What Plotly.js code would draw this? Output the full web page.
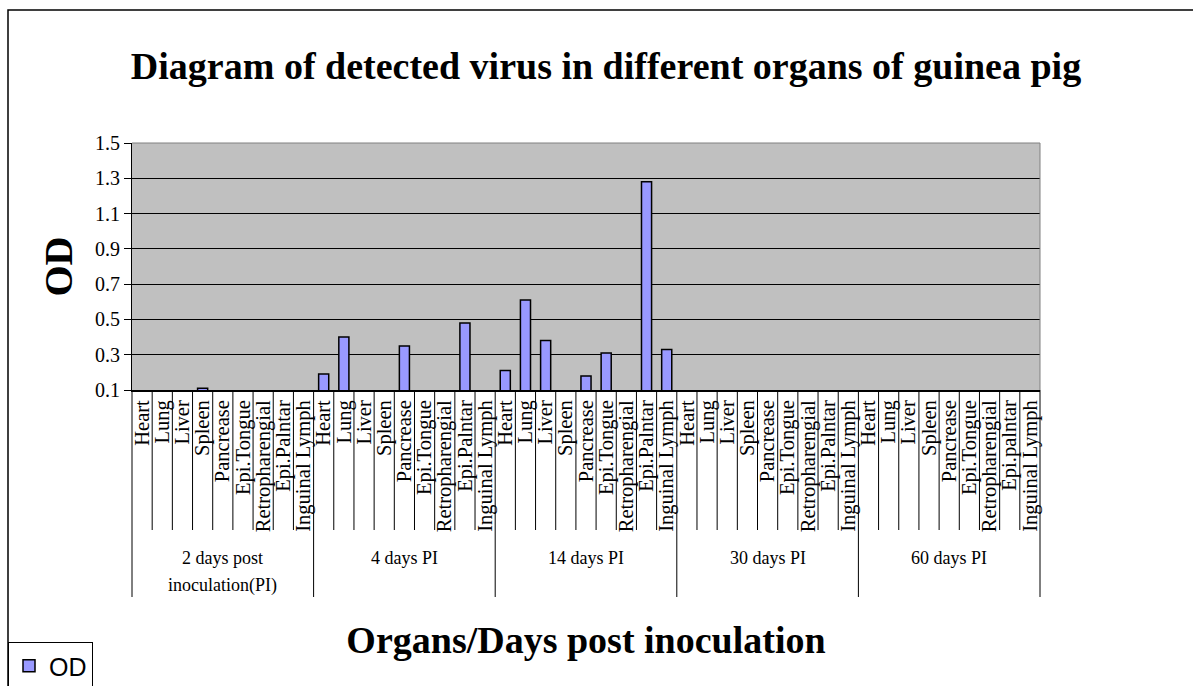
<!DOCTYPE html>
<html>
<head>
<meta charset="utf-8">
<script src="https://cdn.plot.ly/plotly-3.0.1.min.js"></script>
<style>
  html, body { margin: 0; padding: 0; background: #ffffff; }
  #chart { width: 1193px; height: 686px; }
</style>
</head>
<body>
<div id="chart"></div>
<script>
// ---- data ----
const organs = ["Heart", "Lung", "Liver", "Spleen", "Pancrease", "Epi.Tongue", "Retropharengial", "Epi.Palntar", "Inguinal Lymph"];
const organs60 = ["Heart", "Lung", "Liver", "Spleen", "Pancrease", "Epi.Tongue", "Retropharengial", "Epi.palntar", "Inguinal Lymph"];
const groups = ["2 days post\ninoculation(PI)", "4 days PI", "14 days PI", "30 days PI", "60 days PI"];
const od2days  = [0, 0, 0, 0.11, 0, 0, 0, 0, 0];
const od4days  = [0.19, 0.40, 0, 0, 0.35, 0, 0, 0.48, 0];
const od14days = [0.21, 0.61, 0.38, 0, 0.18, 0.31, 0, 1.28, 0.33];
const od30days = [0, 0, 0, 0, 0, 0, 0, 0, 0];
const od60days = [0, 0, 0, 0, 0, 0, 0, 0, 0];
const yTicks = [0.1, 0.3, 0.5, 0.7, 0.9, 1.1, 1.3, 1.5];

// ---- build ----
const groupOrgans = [organs, organs, organs, organs, organs60];
const groupValues = [od2days, od4days, od14days, od30days, od60days];
const tickText = [].concat(...groupOrgans);
const yVals = [].concat(...groupValues);
const xIdx = tickText.map((_, i) => i);
const nCat = tickText.length;
const perGroup = organs.length;

const W = 1193, H = 686;
const M = {l: 132, r: 153, t: 143, b: 296, autoexpand: false};
const plotH = H - M.t - M.b;
const plotW = W - M.l - M.r;
const py = p => (H - M.b - p) / plotH;   // pixel y -> paper y
const px = p => (p - M.l) / plotW;       // pixel x -> paper x

const serif = '"Liberation Serif", "Times New Roman", serif';

const shapes = [];
// category separators below the axis
for (let k = 0; k <= nCat; k++) {
  const isGroup = (k % perGroup === 0);
  shapes.push({
    type: 'line', xref: 'paper', yref: 'paper',
    x0: k / nCat, x1: k / nCat, y0: 0, y1: isGroup ? py(597) : py(530),
    line: {color: '#000000', width: 1}
  });
}
// plot area border (top/right grey)
shapes.push({type: 'line', xref: 'paper', yref: 'paper', x0: 0, x1: 1, y0: 1, y1: 1, line: {color: '#808080', width: 1}});
shapes.push({type: 'line', xref: 'paper', yref: 'paper', x0: 1, x1: 1, y0: 0, y1: 1, line: {color: '#808080', width: 1}});
// chart outer border
shapes.push({type: 'rect', xref: 'paper', yref: 'paper',
  x0: px(8), x1: px(1240), y0: py(10), y1: py(760),
  line: {color: '#000000', width: 1.5}, fillcolor: 'rgba(0,0,0,0)'});

const annotations = [];
groups.forEach((g, gi) => {
  const lines = g.split('\n');
  lines.forEach((ln, li) => {
    annotations.push({
      xref: 'x', yref: 'paper',
      x: gi * perGroup + (perGroup - 1) / 2,
      y: py(558 + li * 27),
      text: ln, showarrow: false,
      xanchor: 'center', yanchor: 'middle',
      font: {family: serif, size: 18, color: '#000000'}
    });
  });
});

const trace = {
  type: 'bar',
  x: xIdx,
  y: yVals,
  name: 'OD',
  marker: {color: '#9999FF', line: {color: '#000000', width: 1.5}},
  hoverinfo: 'y'
};

const layout = {
  width: W, height: H,
  margin: M,
  paper_bgcolor: '#ffffff',
  plot_bgcolor: '#C0C0C0',
  bargap: 0.5,
  showlegend: true,
  title: {
    text: '<b>Diagram of detected virus in different organs of guinea pig</b>',
    font: {family: serif, size: 38, color: '#000000'},
    x: 606 / W, xref: 'container', xanchor: 'center',
    y: 1 - 66 / H, yref: 'container', yanchor: 'middle'
  },
  xaxis: {
    range: [-0.5, nCat - 0.5],
    tickmode: 'array', tickvals: xIdx, ticktext: tickText,
    tickangle: -90,
    ticks: '', showgrid: false, zeroline: false,
    showline: true, linecolor: '#000000', linewidth: 2,
    tickfont: {family: serif, size: 20.5, color: '#000000'},
    automargin: false,
    title: {text: '<b>Organs/Days post inoculation</b>', font: {family: serif, size: 38, color: '#000000'}, standoff: 95}
  },
  yaxis: {
    range: [0.1, 1.5],
    tickmode: 'array', tickvals: yTicks, ticktext: yTicks.map(v => v.toFixed(1)),
    ticks: 'outside', ticklen: 7, tickcolor: '#000000', tickwidth: 1,
    showgrid: true, gridcolor: '#000000', gridwidth: 1,
    zeroline: false,
    showline: true, linecolor: '#000000', linewidth: 1,
    tickfont: {family: serif, size: 20, color: '#000000'},
    automargin: false,
    title: {text: '<b>OD</b>', font: {family: serif, size: 40, color: '#000000'}, standoff: 10}
  },
  legend: {
    x: px(8), xref: 'paper', xanchor: 'left',
    y: py(642), yref: 'paper', yanchor: 'top',
    bgcolor: '#ffffff', bordercolor: '#000000', borderwidth: 1,
    font: {family: '"Liberation Sans", Arial, sans-serif', size: 25, color: '#000000'},
    itemwidth: 30
  },
  shapes: shapes,
  annotations: annotations
};

Plotly.newPlot('chart', [trace], layout, {displayModeBar: false, staticPlot: true});
</script>
</body>
</html>
